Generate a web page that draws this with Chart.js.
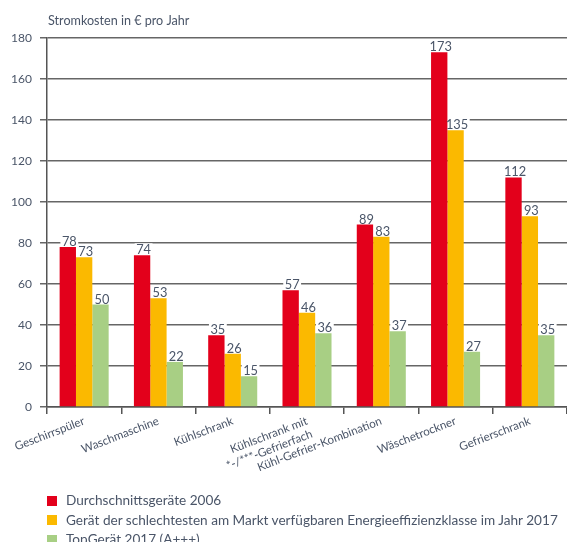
<!DOCTYPE html>
<html><head><meta charset="utf-8">
<script src="https://cdn.jsdelivr.net/npm/chart.js@4"></script>
<style>
html,body{margin:0;padding:0;background:#fff;width:567px;height:542px;overflow:hidden;font-family:Lato,"Open Sans",sans-serif;}
#wrap{position:relative;width:567px;height:495px;}
#legend{position:absolute;left:47px;top:491px;font-size:13.6px;color:#4a5568;line-height:19.5px;}
#legend div{display:flex;align-items:center;white-space:nowrap;height:19.5px;}
#legend span.sw{display:inline-block;width:10px;height:10px;margin-right:9px;}
</style></head><body>
<div id="wrap"><canvas id="c" width="567" height="495"></canvas></div>
<div id="legend"></div>
<script>
const categories = ["Geschirrspüler","Waschmaschine","Kühlschrank",["Kühlschrank mit","*-/***-Gefrierfach"],"Kühl-Gefrier-Kombination","Wäschetrockner","Gefrierschrank"];
const seriesNames = ["Durchschnittsgeräte 2006","Gerät der schlechtesten am Markt verfügbaren Energieeffizienzklasse im Jahr 2017","TopGerät 2017 (A+++)"];
const avg2006 = [78,74,35,57,89,173,112];
const worst2017 = [73,53,26,46,83,135,93];
const top2017 = [50,22,15,36,37,27,35];
const colors = ["#e3001b","#fbb900","#a8cf84"];
const yTicks = [0,20,40,60,80,100,120,140,160,180];
const title = "Stromkosten in € pro Jahr";
const textColor = "#4a5568";
const valFont = "12.8px Lato";

function eachLabel(chart, fn){
  chart.data.datasets.forEach((ds,i)=>{
    chart.getDatasetMeta(i).data.forEach((bar,j)=>{
      fn(String(ds.data[j]), bar.x + 1.5, bar.y);
    });
  });
}
const labelPlugin = {
  id:'vals',
  beforeDatasetsDraw(chart){
    const ctx = chart.ctx;
    ctx.save();
    ctx.font = valFont;
    ctx.fillStyle = "#fff";
    eachLabel(chart,(t,x,y)=>{
      const w = ctx.measureText(t).width;
      ctx.fillRect(x - w/2 - 1.5, y - 12, w + 3, 12);
    });
    ctx.restore();
  },
  afterDatasetsDraw(chart){
    const ctx = chart.ctx;
    ctx.save();
    ctx.font = valFont;
    ctx.textAlign = "center";
    ctx.textBaseline = "alphabetic";
    ctx.fillStyle = textColor;
    eachLabel(chart,(t,x,y)=>{ ctx.fillText(t, x, y - 1); });
    ctx.textAlign = "left";
    ctx.font = "12.6px Lato";
    ctx.fillText(title, chart.chartArea.left + 1, 25);
    ctx.restore();
  }
};

new Chart(document.getElementById('c'), {
  type:'bar',
  data:{
    labels:categories,
    datasets:[
      {label:seriesNames[0], data:avg2006, backgroundColor:colors[0]},
      {label:seriesNames[1], data:worst2017, backgroundColor:colors[1]},
      {label:seriesNames[2], data:top2017, backgroundColor:colors[2]}
    ]
  },
  options:{
    responsive:false, animation:false,
    layout:{padding:{top:38,right:0,left:0,bottom:0}},
    plugins:{legend:{display:false}, tooltip:{enabled:false}, title:{display:false}},
    datasets:{bar:{categoryPercentage:0.66, barPercentage:1.0}},
    scales:{
      x:{
        grid:{drawOnChartArea:false, drawTicks:true, tickLength:7, color:"#555", lineWidth:1.5, offset:true},
        border:{color:"#555", width:1.5},
        ticks:{color:textColor, font:{family:"Lato", size:11.6}, maxRotation:21, minRotation:21, autoSkip:false, padding:0},
        afterFit(s){ s.height = 88; }
      },
      y:{
        min:0, max:180,
        afterBuildTicks(s){ s.ticks = yTicks.map(v=>({value:v})); },
        grid:{color:"#666", lineWidth:1.5, tickLength:7},
        border:{color:"#555", width:1.5},
        ticks:{color:textColor, font:{family:"Lato", size:12}, padding:8},
        afterFit(s){ s.width = 47; }
      }
    }
  },
  plugins:[labelPlugin]
});

const lg = document.getElementById('legend');
seriesNames.forEach((n,i)=>{
  const d = document.createElement('div');
  d.innerHTML = '<span class="sw" style="background:'+colors[i]+'"></span>'+n;
  lg.appendChild(d);
});
</script>
</body></html>
